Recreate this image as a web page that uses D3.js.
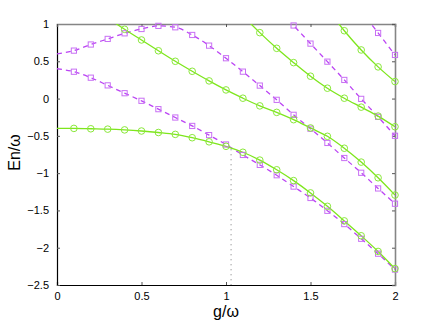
<!DOCTYPE html>
<html>
<head>
<meta charset="utf-8">
<script src="https://cdn.jsdelivr.net/npm/d3@7"></script>
<style>
    body { margin: 0; background: #ffffff; }
    svg { display: block; font-family: "Liberation Sans", Arial, sans-serif; }
    .tick text { font-size: 11px; fill: #000; }
    .axis-label { font-size: 16px; fill: #000; }
</style>
</head>
<body>
<svg id="chart"></svg>
<script>
// coupling values g/omega (one entry per computed point)
const gValues = [0, 0.1, 0.2, 0.3, 0.4, 0.5, 0.6, 0.7, 0.8, 0.9, 1.0,
                 1.1, 1.2, 1.3, 1.4, 1.5, 1.6, 1.7, 1.8, 1.9, 2.0];

// solid green levels (circles)
const greenLevel1 = [-0.40, -0.40, -0.405, -0.41, -0.42, -0.435, -0.455, -0.48, -0.525, -0.58, -0.64,
                     -0.72, -0.825, -0.955, -1.10, -1.265, -1.445, -1.64, -1.84, -2.05, -2.28];
const greenLevel2 = [null, null, null, 1.08, 0.929, 0.786, 0.641, 0.50, 0.366, 0.237, 0.116,
                     0.005, -0.098, -0.185, -0.283, -0.394, -0.506, -0.666, -0.852, -1.062, -1.294];
const greenLevel3 = [null, null, null, null, null, null, null, null, null, null, null,
                     1.11, 0.884, 0.674, 0.482, 0.30, 0.139, 0.005, -0.115, -0.235, -0.378];
const greenLevel4 = [null, null, null, null, null, null, null, null, null, null, null,
                     null, null, null, null, null, 1.20, 0.91, 0.652, 0.425, 0.228];

// dashed magenta levels (squares)
const magentaLevel1 = [0.40, 0.36, 0.28, 0.177, 0.072, -0.03, -0.142, -0.254, -0.367, -0.49, -0.616,
                       -0.756, -0.889, -1.028, -1.18, -1.333, -1.505, -1.683, -1.88, -2.08, -2.293];
const magentaLevel2 = [0.60, 0.643, 0.725, 0.80, 0.875, 0.933, 0.975, 0.956, 0.853, 0.71, 0.541,
                       0.361, 0.174, -0.017, -0.218, -0.404, -0.595, -0.797, -0.995, -1.205, -1.41];
const magentaLevel3 = [null, null, null, null, null, null, null, null, null, null, null,
                       null, null, 1.225, 0.98, 0.737, 0.495, 0.25, -0.004, -0.245, -0.499];
const magentaLevel4 = [null, null, null, null, null, null, null, null, null, null, null,
                       null, null, null, null, null, null, null, 1.17, 0.88, 0.585];

// dotted marker line
const gMark = 1.03;
const gMarkTop = -0.68;

const xTicks = [0, 0.5, 1, 1.5, 2];
const yTicks = [-2.5, -2, -1.5, -1, -0.5, 0, 0.5, 1];

(function() {
    'use strict';

    const width = 436, height = 322;
    const margin = { top: 24, right: 41, bottom: 37, left: 57 };
    const innerWidth = width - margin.left - margin.right;
    const innerHeight = height - margin.top - margin.bottom;

    const green = '#7ee61c';
    const magenta = '#bb44f4';

    const svg = d3.select('#chart')
        .attr('width', width)
        .attr('height', height);

    svg.append('defs').append('clipPath')
        .attr('id', 'plot-clip')
        .append('rect')
        .attr('width', innerWidth)
        .attr('height', innerHeight);

    const g = svg.append('g')
        .attr('transform', `translate(${margin.left}, ${margin.top})`);

    // Scales
    const xScale = d3.scaleLinear().domain([0, 2]).range([0, innerWidth]);
    const yScale = d3.scaleLinear().domain([-2.5, 1]).range([innerHeight, 0]);

    const minus = d => String(d).replace('-', '\u2212');

    // Axes (ticks point inward)
    const xAxis = g.append('g')
        .attr('transform', `translate(0, ${innerHeight})`)
        .call(d3.axisBottom(xScale).tickValues(xTicks).tickSize(-3).tickPadding(7).tickFormat(d => d));
    const yAxis = g.append('g')
        .call(d3.axisLeft(yScale).tickValues(yTicks).tickSize(-3).tickPadding(8).tickFormat(minus));
    const topAxis = g.append('g')
        .call(d3.axisTop(xScale).tickValues(xTicks).tickSize(-3).tickFormat(''));
    const rightAxis = g.append('g')
        .attr('transform', `translate(${innerWidth}, 0)`)
        .call(d3.axisRight(yScale).tickValues(yTicks).tickSize(-3).tickFormat(''));

    [xAxis, yAxis].forEach(a => {
        a.select('.domain').attr('stroke', '#000').attr('stroke-width', 1.2);
        a.selectAll('.tick line').attr('stroke', '#555');
    });
    [topAxis, rightAxis].forEach(a => {
        a.select('.domain').attr('stroke', '#858585').attr('stroke-width', 1.6);
        a.selectAll('.tick line').attr('stroke', '#555');
    });

    // Dotted vertical line
    g.append('line')
        .attr('x1', xScale(gMark)).attr('x2', xScale(gMark))
        .attr('y1', yScale(gMarkTop)).attr('y2', yScale(-2.5))
        .attr('stroke', '#777')
        .attr('stroke-width', 1)
        .attr('stroke-dasharray', '1,4');

    const toPoints = values => values.map((v, i) => ({ g: gValues[i], v: v, i: i }));

    const line = d3.line()
        .defined(d => d.v !== null)
        .x(d => xScale(d.g))
        .y(d => yScale(d.v))
        .curve(d3.curveMonotoneX);

    const plot = g.append('g');
    const lines = plot.append('g').attr('clip-path', 'url(#plot-clip)');

    // markers only at computed points inside the frame (not at g = 0)
    const markerData = values => toPoints(values)
        .filter(d => d.i > 0 && d.v !== null && d.v <= 1.0);

    // Magenta dashed series
    [magentaLevel1, magentaLevel2, magentaLevel3, magentaLevel4].forEach(values => {
        lines.append('path')
            .datum(toPoints(values))
            .attr('fill', 'none')
            .attr('stroke', magenta)
            .attr('stroke-width', 1.3)
            .attr('stroke-dasharray', '5,4')
            .attr('d', line);

        plot.selectAll(null)
            .data(markerData(values))
            .enter()
            .append('rect')
            .attr('x', d => xScale(d.g) - 2.6)
            .attr('y', d => yScale(d.v) - 2.6)
            .attr('width', 5.2)
            .attr('height', 5.2)
            .attr('fill', 'none')
            .attr('stroke', '#c870f4')
            .attr('stroke-width', 1);
    });

    // Green solid series
    [greenLevel1, greenLevel2, greenLevel3, greenLevel4].forEach(values => {
        lines.append('path')
            .datum(toPoints(values))
            .attr('fill', 'none')
            .attr('stroke', green)
            .attr('stroke-width', 1.3)
            .attr('d', line);

        plot.selectAll(null)
            .data(markerData(values))
            .enter()
            .append('circle')
            .attr('cx', d => xScale(d.g))
            .attr('cy', d => yScale(d.v))
            .attr('r', 3.3)
            .attr('fill', 'none')
            .attr('stroke', '#8ae83a')
            .attr('stroke-width', 1);
    });

    // Axis labels
    g.append('text')
        .attr('class', 'axis-label')
        .attr('x', innerWidth / 2)
        .attr('y', innerHeight + 32)
        .attr('text-anchor', 'middle')
        .text('g/\u03c9');

    g.append('text')
        .attr('class', 'axis-label')
        .attr('transform', 'rotate(-90)')
        .attr('x', -innerHeight / 2 + 2)
        .attr('y', -37)
        .attr('text-anchor', 'middle')
        .text('En/\u03c9');
})();
</script>
</body>
</html>
